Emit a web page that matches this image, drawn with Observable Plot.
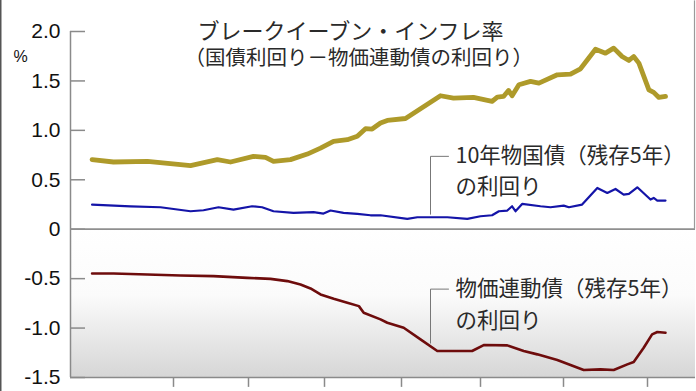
<!DOCTYPE html>
<html><head><meta charset="utf-8">
<script src="https://cdn.jsdelivr.net/npm/d3@7"></script>
<script src="https://cdn.jsdelivr.net/npm/@observablehq/plot@0.6"></script>
<style>
html,body{margin:0;padding:0;background:#fff;}
#chart{width:696px;height:391px;overflow:hidden;}
</style></head><body><div id="chart"></div>
<script>
// x: time index (arbitrary weekly-ish units), y: percent
const beiT = [0.4,5.75,14.25,22.5,25,31.7,35,40.75,43.75,45.75,50,54.2,57.5,60.75,64.2,66.7,68.75,70.4,72.5,74.2,78.75,87.5,90.75,95.75,100.4,101.7,103.25,104.5,105.4,107.1,110,112.1,116.7,120,122.5,126.25,128.75,130.8,132.9,134.6,135.8,137.1,139.6,140.8,142.1,143.75];
const beiV = [0.704,0.68,0.687,0.653,0.643,0.704,0.68,0.737,0.727,0.687,0.704,0.76,0.82,0.889,0.906,0.94,1.017,1.013,1.074,1.10,1.12,1.35,1.327,1.333,1.293,1.337,1.343,1.404,1.35,1.461,1.495,1.478,1.562,1.569,1.623,1.821,1.781,1.832,1.747,1.707,1.747,1.68,1.41,1.384,1.333,1.343];

const jgbT = [0.4,10,17.5,25,28.25,32,35.75,40.4,42.9,45.75,50.75,55.75,58.25,60,63.25,66.7,70,72.5,79.2,81.7,89.2,94.2,97.5,100.4,102.1,104.2,105.4,106.25,107.9,112.5,115,118.3,119.6,122.9,126.7,129.2,131.25,133.3,134.6,136.7,140,140.8,141.7,143.75];
const jgbV = [0.249,0.232,0.222,0.182,0.192,0.222,0.199,0.232,0.222,0.182,0.165,0.172,0.158,0.189,0.165,0.155,0.141,0.141,0.104,0.121,0.121,0.104,0.131,0.141,0.182,0.189,0.232,0.182,0.256,0.232,0.222,0.239,0.222,0.249,0.417,0.367,0.407,0.35,0.357,0.424,0.3,0.316,0.29,0.29];

const ilbT = [0.4,5.75,14.2,22.5,30.75,39.2,45,49.2,52.5,55,57.5,60.8,64.2,67.1,68.3,72.5,74.2,78.3,82.5,86.7,90,95.4,98.3,104.2,108.3,111.7,116.7,120,123.3,127.5,130.8,134.2,135.8,138.3,140.4,141.7,143.75];
const ilbV = [-0.448,-0.448,-0.458,-0.468,-0.475,-0.492,-0.502,-0.525,-0.559,-0.599,-0.66,-0.704,-0.744,-0.778,-0.845,-0.912,-0.946,-0.997,-1.114,-1.232,-1.232,-1.232,-1.172,-1.175,-1.232,-1.266,-1.323,-1.374,-1.424,-1.418,-1.424,-1.367,-1.343,-1.199,-1.064,-1.04,-1.047];

const yTicks = [2, 1.5, 1, 0.5, 0, -0.5, -1, -1.5];
const yTickLabels = ["2.0","1.5","1.0","0.5","0","-0.5","-1.0","-1.5"];
const xTicks = [20.75, 39.5, 58.5, 77.75, 97.5, 118.25, 139.25];

const titleLines = ["ブレークイーブン・インフレ率", "（国債利回り－物価連動債の利回り）"];
const jgbLabel = ["10年物国債（残存5年）", "の利回り"];
const ilbLabel = ["物価連動債（残存5年）", "の利回り"];
const unitLabel = "%";

const rows = (ts, vs) => ts.map((t, i) => ({t, v: vs[i]}));
const XMIN = -5, XMAX = 151.25;
const axisColor = "#8a8a8a";
const jp = "'Noto Sans CJK JP', 'Noto Sans', sans-serif";

const plot = Plot.plot({
  width: 696, height: 391,
  marginLeft: 70, marginRight: 1, marginTop: 31, marginBottom: 14,
  x: {domain: [XMIN, XMAX], axis: null},
  y: {domain: [-1.5, 2], axis: null},
  style: {background: "transparent", fontFamily: "'Liberation Sans', Arial, sans-serif"},
  marks: [
    Plot.rect([0], {x1: XMIN, x2: XMAX, y1: 0, y2: -1.5, fill: "url(#lowerGrad)"}),
    Plot.ruleX([151], {y1: 0, y2: 2.31, stroke: "#9a9a9a", strokeWidth: 1.2}),
    Plot.ruleX([XMIN], {y1: -1.5, y2: 2, stroke: axisColor, strokeWidth: 1.5}),
    Plot.ruleY(yTicks, {x1: XMIN, x2: -1.25, stroke: axisColor, strokeWidth: 1.5}),
    Plot.ruleY([0], {x1: XMIN, x2: XMAX, stroke: "#8f8f8f", strokeWidth: 1.8}),
    Plot.ruleY([-1.5], {x1: XMIN, x2: XMAX, stroke: axisColor, strokeWidth: 1.5}),
    Plot.ruleX(xTicks, {y1: -1.5, y2: -1.6, stroke: axisColor, strokeWidth: 1.5}),
    Plot.text(yTicks, {x: XMIN, y: d => d, text: (d, i) => yTickLabels[i], textAnchor: "end", dx: -10, fontSize: 21, fill: "#111"}),
    Plot.text([unitLabel], {x: -17.5, y: 1.74, text: d => d, fontSize: 16, fill: "#111"}),
    Plot.line([{t: 89.5, v: 0.737}, {t: 85, v: 0.737}, {t: 85, v: 0.152}], {x: "t", y: "v", stroke: "#777", strokeWidth: 1}),
    Plot.line([{t: 89.5, v: -0.606}, {t: 85, v: -0.606}, {t: 85, v: -1.152}], {x: "t", y: "v", stroke: "#777", strokeWidth: 1}),
    Plot.line(rows(ilbT, ilbV), {x: "t", y: "v", stroke: "#6e0c0c", strokeWidth: 2.6, strokeLinejoin: "round"}),
    Plot.line(rows(jgbT, jgbV), {x: "t", y: "v", stroke: "#1414a8", strokeWidth: 2.2, strokeLinejoin: "round"}),
    Plot.line(rows(beiT, beiV), {x: "t", y: "v", stroke: "#ae9a2a", strokeWidth: 4.8, strokeLinejoin: "round", strokeLinecap: "round"}),
    Plot.text(titleLines.slice(0, 1), {x: 26.75, y: 2.0, text: d => d, textAnchor: "start", fontSize: 22, fill: "#2a2a2a", fontFamily: jp}),
    Plot.text(titleLines.slice(1), {x: 23.5, y: 1.727, text: d => d, textAnchor: "start", fontSize: 20.5, fill: "#2a2a2a", fontFamily: jp}),
    Plot.text(jgbLabel, {x: 91.25, y: (d, i) => [0.737, 0.424][i], text: d => d, textAnchor: "start", fontSize: 21.5, fill: "#2a2a2a", fontFamily: jp}),
    Plot.text(ilbLabel, {x: 91.25, y: (d, i) => [-0.606, -0.929][i], text: d => d, textAnchor: "start", fontSize: 21.5, fill: "#2a2a2a", fontFamily: jp})
  ]
});

const svg = d3.select(plot);
const defs = svg.insert("defs", ":first-child");
const grad = defs.append("linearGradient").attr("id", "lowerGrad").attr("x1", 0).attr("y1", 0).attr("x2", 0).attr("y2", 1);
[["0%", "#ffffff"], ["45%", "#fbfbfb"], ["100%", "#d6d6d6"]].forEach(([o, c]) => grad.append("stop").attr("offset", o).attr("stop-color", c));
svg.append("line").attr("x1", 0.75).attr("x2", 0.75).attr("y1", 0).attr("y2", 391).attr("stroke", "#555").attr("stroke-width", 1.5);

document.getElementById("chart").appendChild(plot);
</script>
</body></html>
